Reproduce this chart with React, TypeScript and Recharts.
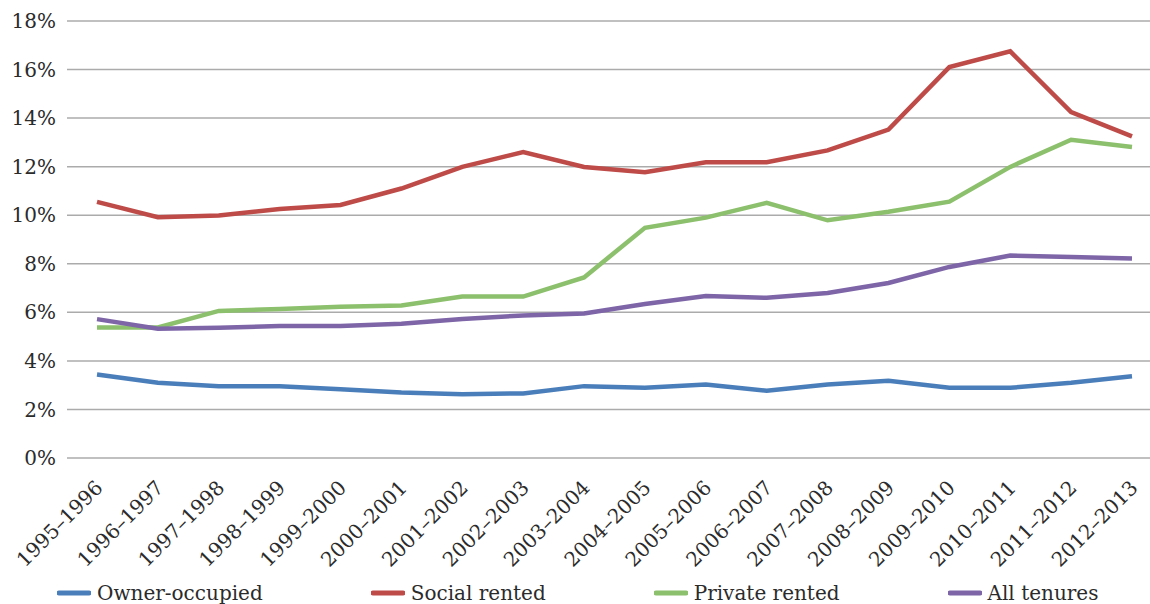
import React from 'react';
import { LineChart, Line, XAxis, YAxis, CartesianGrid, Legend } from 'recharts';

const years = ['1995–1996','1996–1997','1997–1998','1998–1999','1999–2000','2000–2001','2001–2002','2002–2003','2003–2004','2004–2005','2005–2006','2006–2007','2007–2008','2008–2009','2009–2010','2010–2011','2011–2012','2012–2013'];
const ownerOccupied = [3.44,3.10,2.96,2.96,2.83,2.70,2.63,2.66,2.96,2.89,3.03,2.77,3.03,3.18,2.89,2.89,3.10,3.37];
const socialRented = [10.55,9.92,9.99,10.26,10.42,11.10,11.99,12.60,11.99,11.77,12.18,12.18,12.67,13.53,16.10,16.75,14.25,13.25];
const privateRented = [5.38,5.38,6.06,6.14,6.23,6.28,6.65,6.65,7.44,9.48,9.90,10.51,9.79,10.14,10.56,11.99,13.11,12.81];
const allTenures = [5.72,5.32,5.36,5.44,5.44,5.53,5.73,5.87,5.95,6.34,6.67,6.60,6.80,7.21,7.87,8.34,8.28,8.22];
const yTicks = [0,2,4,6,8,10,12,14,16,18];

const seriesDefs = [
  { key: 'owner', name: 'Owner-occupied', color: '#4A7EBB' },
  { key: 'social', name: 'Social rented', color: '#BE4B48' },
  { key: 'private', name: 'Private rented', color: '#8CC06C' },
  { key: 'all', name: 'All tenures', color: '#7D65A8' },
];

const data = years.map((y, i) => ({
  year: y,
  owner: ownerOccupied[i],
  social: socialRented[i],
  private: privateRented[i],
  all: allTenures[i],
}));

const FONT = '"DejaVu Serif", serif';
const TEXT = '#2b2b2b';

const XTick = (props: any) => {
  const { x, payload } = props;
  const px = x + 2;
  const py = 484;
  return (
    <text x={px} y={py} dy="0.35em" textAnchor="end" fill={TEXT} fontFamily={FONT} fontSize={20}
      transform={`rotate(-45, ${px}, ${py})`}>
      {payload.value}
    </text>
  );
};

const LegendContent = () => (
  <div style={{ display: 'flex', alignItems: 'center', height: 30, paddingLeft: 57, fontFamily: FONT, fontSize: 20, color: TEXT }}>
    {seriesDefs.map((s, i) => (
      <div key={s.key} style={{ display: 'flex', alignItems: 'center', marginRight: i < seriesDefs.length - 1 ? 108 : 0 }}>
        <svg width={34} height={8} style={{ marginRight: 6 }}>
          <line x1={2} y1={4} x2={32} y2={4} stroke={s.color} strokeWidth={5} strokeLinecap="round" />
        </svg>
        <span style={{ whiteSpace: 'nowrap' }}>{s.name}</span>
      </div>
    ))}
  </div>
);

export default function App() {
  return (
    <div style={{ position: 'absolute', left: 0, top: 0, width: 1150, height: 604, overflow: 'hidden', background: '#fff' }}>
      <LineChart width={1162} height={604} data={data} margin={{ top: 21, right: 0, bottom: 0, left: 0 }}>
        <CartesianGrid vertical={false} stroke="#ABABAB" strokeWidth={1.5} />
        <XAxis dataKey="year" axisLine={false} tickLine={false} height={116} interval={0}
          padding={{ left: 30, right: 30 }} tick={<XTick />} />
        <YAxis width={67} domain={[0, 18]} ticks={yTicks} axisLine={false} tickLine={false}
          tickSize={0} tickMargin={11} tickFormatter={(v: number) => `${v}%`}
          tick={{ fill: TEXT, fontFamily: FONT, fontSize: 20 }} />
        <Legend content={<LegendContent />} wrapperStyle={{ left: 0, top: 578, bottom: 'auto', width: 1150, height: 30 }} />
        {seriesDefs.map((s) => (
          <Line key={s.key} type="linear" dataKey={s.key} name={s.name} stroke={s.color} strokeWidth={4.5}
            dot={false} activeDot={false} isAnimationActive={false} />
        ))}
      </LineChart>
    </div>
  );
}
